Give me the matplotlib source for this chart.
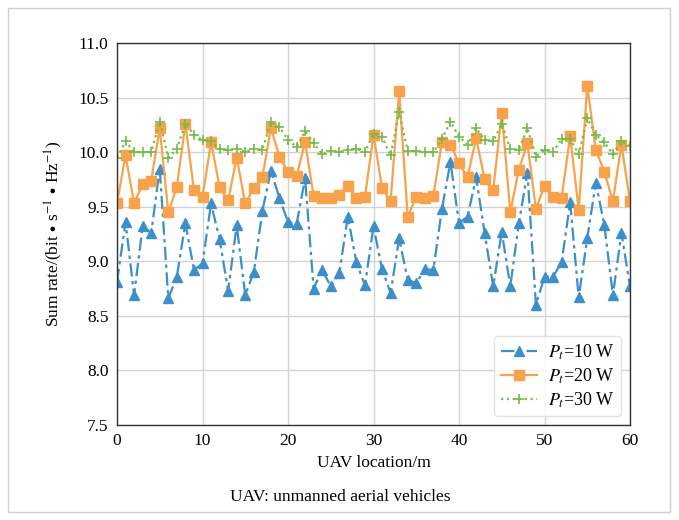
import matplotlib
matplotlib.use("Agg")
import matplotlib.pyplot as plt
from matplotlib.patches import Rectangle

x = list(range(61))
p10 = [8.81, 9.36, 8.69, 9.32, 9.26, 9.85, 8.66, 8.86, 9.35, 8.92,
       8.98, 9.53, 9.20, 8.73, 9.33, 8.69, 8.90, 9.46, 9.83, 9.58,
       9.36, 9.34, 9.76, 8.75, 8.92, 8.77, 8.89, 9.41, 8.99, 8.78,
       9.32, 8.93, 8.71, 9.21, 8.83, 8.80, 8.93, 8.92, 9.48, 9.91,
       9.35, 9.41, 9.77, 9.26, 8.77, 9.27, 8.77, 9.35, 9.81, 8.60,
       8.86, 8.86, 8.99, 9.54, 8.67, 9.21, 9.72, 9.33, 8.69, 9.26, 8.77]
p20 = [9.53, 9.97, 9.53, 9.71, 9.74, 10.22, 9.45, 9.68, 10.26, 9.65,
       9.59, 10.09, 9.68, 9.56, 9.95, 9.53, 9.67, 9.77, 10.22, 9.96,
       9.82, 9.78, 10.09, 9.60, 9.58, 9.58, 9.61, 9.69, 9.58, 9.59,
       10.16, 9.67, 9.55, 10.56, 9.41, 9.59, 9.58, 9.60, 10.09, 10.07,
       9.90, 9.77, 10.13, 9.75, 9.65, 10.36, 9.45, 9.84, 10.08, 9.48,
       9.69, 9.59, 9.58, 10.15, 9.47, 10.61, 10.02, 9.82, 9.55, 10.07, 9.55]
p30 = [9.95, 10.10, 10.00, 10.00, 10.00, 10.28, 9.95, 10.03, 10.26, 10.16,
       10.11, 10.10, 10.03, 10.02, 10.03, 10.00, 10.03, 10.02, 10.28, 10.23,
       10.11, 10.05, 10.19, 10.08, 9.98, 10.01, 10.00, 10.02, 10.03, 10.00,
       10.17, 10.14, 9.97, 10.37, 10.01, 10.01, 10.00, 10.00, 10.12, 10.28,
       10.14, 10.07, 10.22, 10.11, 10.10, 10.26, 10.03, 10.02, 10.22, 9.96,
       10.02, 10.00, 10.12, 10.12, 9.98, 10.31, 10.16, 10.09, 9.98, 10.10, 10.06]
labels = [r'$P_t$=10 W', r'$P_t$=20 W', r'$P_t$=30 W']
xticks = [0, 10, 20, 30, 40, 50, 60]
yticks = [7.5, 8.0, 8.5, 9.0, 9.5, 10.0, 10.5, 11.0]

plt.rcParams['font.family'] = ['Liberation Serif', 'DejaVu Serif']
plt.rcParams['mathtext.fontset'] = 'stix'

fig = plt.figure(figsize=(6.79, 5.2), dpi=100)
fig.patches.append(Rectangle((8/679, 8/520), 662/679, 504/520, transform=fig.transFigure,
                             fill=False, edgecolor='#d0d0d0', linewidth=1.0))
ax = fig.add_axes([117/679, 95/520, 513/679, 382/520])

blue = '#3d8fc9'
orange = '#f8a24c'
green = '#74bb4a'

ax.plot(x, p10, color=blue, linestyle=(0, (6, 2, 1.5, 2)), linewidth=1.6,
        marker='^', markersize=7, label=labels[0])
ax.plot(x, p20, color=orange, linestyle='-', linewidth=1.6,
        marker='s', markersize=6.5, label=labels[1])
ax.plot(x, p30, color=green, linestyle=':', linewidth=1.6,
        marker='+', markersize=7, markeredgewidth=1.2, label=labels[2])

ax.set_xlim(0, 60)
ax.set_ylim(7.5, 11.0)
ax.set_xticks(xticks)
ax.set_yticks(yticks)
ax.set_yticklabels([f'{v:.1f}' for v in yticks])
ax.grid(True, color='#d3d3d3', linewidth=1.0)
ax.set_axisbelow(True)
ax.tick_params(length=0, labelsize=12.5, pad=6)
for s in ax.spines.values():
    s.set_color('#333333')
    s.set_linewidth(1.0)

ax.set_xlabel('UAV location/m', fontsize=12.5, labelpad=4)
ax.set_ylabel(r'Sum rate/(bit$\,\bullet\,$s$^{-1}\,\bullet\,$Hz$^{-1}$)', fontsize=12.5, labelpad=10)

leg = ax.legend(loc='lower right', fontsize=13, frameon=True, fancybox=True,
                handlelength=2.0, borderpad=0.35, labelspacing=0.25, handletextpad=0.6)
leg.get_frame().set_edgecolor('#dddddd')

fig.text(340/679, 1 - 497/520, 'UAV: unmanned aerial vehicles', ha='center', va='center', fontsize=12.5)

fig.savefig('out.png', dpi=100)
